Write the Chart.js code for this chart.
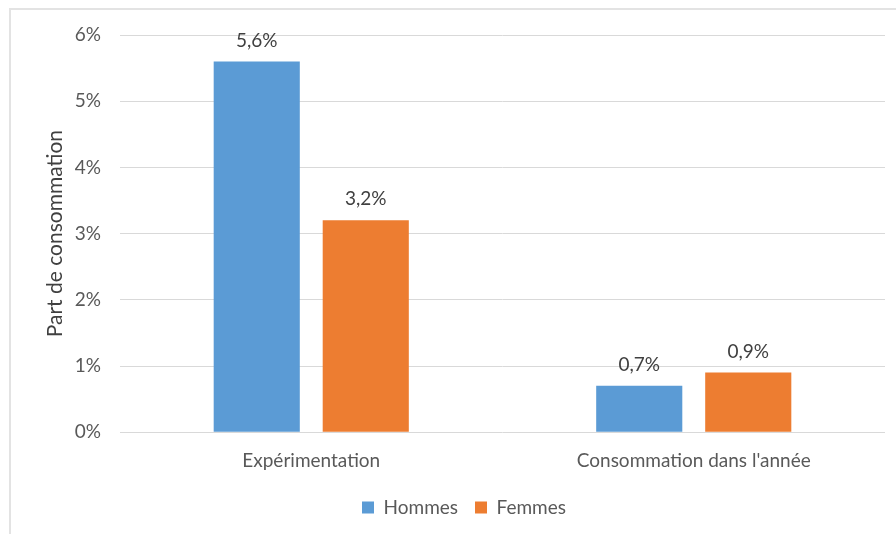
<!DOCTYPE html>
<html lang="fr">
<head>
<meta charset="utf-8">
<title>Part de consommation</title>
<script src="https://cdn.jsdelivr.net/npm/chart.js@4"></script>
<style>
  html, body { margin: 0; padding: 0; background: #fff; overflow: hidden; }
  #frame {
    position: absolute; left: 9px; top: 8px; width: 1000px; height: 1000px;
    border: 2px solid #e3e3e3; box-sizing: border-box;
  }
  #chartContainer { position: absolute; left: 0; top: 0; width: 896px; height: 534px; }
</style>
</head>
<body>
<div id="frame"></div>
<div id="chartContainer"><canvas id="chart"></canvas></div>
<script>
const categories = ['Expérimentation', "Consommation dans l'année"];
const hommes = [5.6, 0.7];
const femmes = [3.2, 0.9];
const yTicks = [0, 1, 2, 3, 4, 5, 6];

const fmt = (v) => v.toFixed(1).replace('.', ',') + '%';

// writes the value above each bar
const barLabels = {
  id: 'barLabels',
  afterDatasetsDraw(chart) {
    const ctx = chart.ctx;
    ctx.save();
    ctx.font = '19px Lato';
    ctx.fillStyle = '#404040';
    ctx.textAlign = 'center';
    ctx.textBaseline = 'middle';
    chart.data.datasets.forEach((ds, i) => {
      chart.getDatasetMeta(i).data.forEach((bar, j) => {
        ctx.fillText(fmt(ds.data[j]), bar.x, bar.y - 21);
      });
    });
    ctx.restore();
  },
};

new Chart('chart', {
  type: 'bar',
  data: {
    labels: categories,
    datasets: [
      {
        label: 'Hommes',
        data: hommes,
        backgroundColor: '#5b9bd5',
        categoryPercentage: 0.57,
        barPercentage: 0.79,
      },
      {
        label: 'Femmes',
        data: femmes,
        backgroundColor: '#ed7d31',
        categoryPercentage: 0.57,
        barPercentage: 0.79,
      },
    ],
  },
  options: {
    responsive: true,
    maintainAspectRatio: false,
    animation: false,
    layout: { padding: { top: 35, right: 11, bottom: 7, left: 43 } },
    plugins: {
      tooltip: { enabled: false },
      legend: {
        position: 'bottom',
        labels: {
          font: { family: 'Lato', size: 19 },
          color: '#595959',
          boxWidth: 12,
          boxHeight: 12,
          padding: 17,
        },
      },
    },
    scales: {
      x: {
        grid: { display: false },
        border: { display: false },
        ticks: { font: { family: 'Lato', size: 19 }, color: '#595959', padding: 9 },
      },
      y: {
        min: 0,
        max: 6,
        afterFit: (scale) => { scale.width = 77; },
        afterBuildTicks: (scale) => { scale.ticks = yTicks.map((v) => ({ value: v })); },
        grid: { color: '#d9d9d9', lineWidth: 1, drawTicks: false },
        border: { display: false },
        ticks: {
          font: { family: 'Lato', size: 19 },
          color: '#595959',
          padding: 19,
          callback: (v) => v + '%',
        },
        title: {
          display: true,
          text: 'Part de consommation',
          font: { family: 'Lato', size: 21 },
          color: '#404040',
          padding: { top: 0, bottom: 0 },
        },
      },
    },
  },
  plugins: [barLabels],
});
</script>
</body>
</html>
